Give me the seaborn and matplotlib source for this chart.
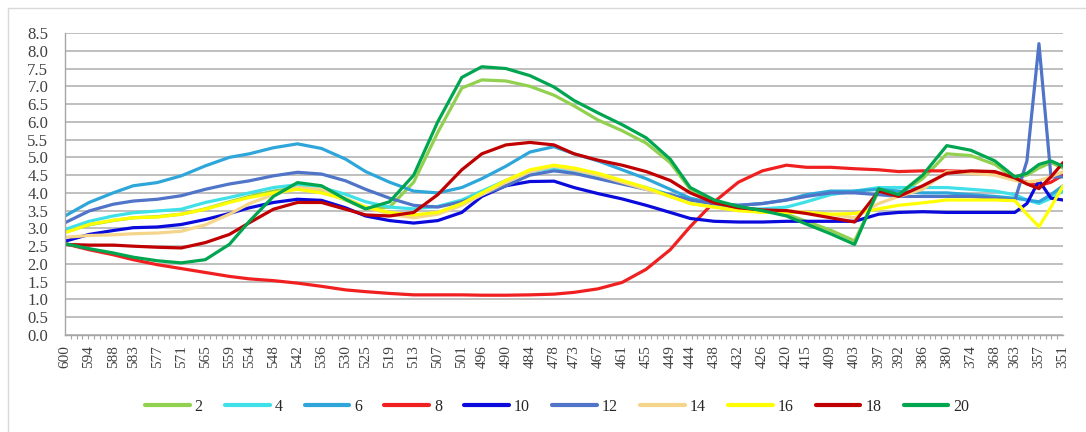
import numpy as np
import pandas as pd
import matplotlib
matplotlib.use("Agg")
import matplotlib.pyplot as plt
from matplotlib.lines import Line2D
import seaborn as sns

# longitudes de onda (nm) y series
wl = [600, 594, 588, 583, 577, 571, 565, 559, 554, 548, 542, 536, 530, 525, 519,
      513, 507, 501, 496, 490, 484, 478, 473, 467, 461, 455, 449, 444, 438, 432,
      426, 420, 415, 409, 403, 397, 392, 386, 380, 374, 368, 363, 360, 357, 354, 351]
tick_wl = [600, 594, 588, 583, 577, 571, 565, 559, 554, 548, 542, 536, 530, 525, 519,
           513, 507, 501, 496, 490, 484, 478, 473, 467, 461, 455, 449, 444, 438, 432,
           426, 420, 415, 409, 403, 397, 392, 386, 380, 374, 368, 363, 357, 351]

s2 = [2.90, 3.10, 3.22, 3.30, 3.33, 3.40, 3.55, 3.75, 3.90, 4.05, 4.15, 4.05, 3.80, 3.55, 3.60,
      4.30, 5.70, 6.95, 7.18, 7.15, 7.00, 6.75, 6.45, 6.05, 5.75, 5.40, 4.85, 4.10, 3.75, 3.60,
      3.50, 3.40, 3.20, 2.95, 2.65, 4.05, 3.95, 4.40, 5.10, 5.05, 4.80, 4.40, 4.50, 4.70, 4.85, 4.70]
s4 = [2.97, 3.20, 3.35, 3.44, 3.49, 3.54, 3.73, 3.87, 4.00, 4.15, 4.23, 4.15, 3.96, 3.75, 3.60,
      3.55, 3.62, 3.80, 4.05, 4.35, 4.60, 4.70, 4.60, 4.45, 4.30, 4.15, 3.95, 3.80, 3.65, 3.55,
      3.55, 3.60, 3.75, 3.95, 4.05, 4.15, 4.15, 4.15, 4.15, 4.10, 4.05, 3.95, 3.80, 3.70, 3.85, 4.05]
s6 = [3.35, 3.73, 4.00, 4.20, 4.29, 4.48, 4.76, 5.00, 5.10, 5.27, 5.38, 5.25, 4.95, 4.60, 4.30,
      4.05, 4.00, 4.15, 4.40, 4.75, 5.15, 5.30, 5.10, 4.90, 4.65, 4.40, 4.10, 3.85, 3.70, 3.65,
      3.70, 3.80, 3.95, 4.05, 4.05, 4.10, 4.05, 4.00, 4.00, 3.95, 3.90, 3.85, 3.80, 3.75, 3.95, 4.20]
s8 = [2.57, 2.40, 2.26, 2.12, 1.98, 1.87, 1.76, 1.65, 1.58, 1.53, 1.46, 1.37, 1.27, 1.22, 1.17,
      1.13, 1.13, 1.13, 1.12, 1.12, 1.13, 1.15, 1.20, 1.30, 1.48, 1.85, 2.40, 3.05, 3.75, 4.30,
      4.62, 4.78, 4.72, 4.72, 4.68, 4.65, 4.60, 4.62, 4.62, 4.60, 4.55, 4.40, 4.30, 4.20, 4.30, 4.50]
s10 = [2.64, 2.83, 2.94, 3.02, 3.04, 3.11, 3.25, 3.42, 3.58, 3.73, 3.82, 3.79, 3.58, 3.35, 3.22,
       3.15, 3.22, 3.45, 3.90, 4.20, 4.32, 4.33, 4.15, 3.98, 3.83, 3.65, 3.45, 3.28, 3.20, 3.18,
       3.18, 3.20, 3.20, 3.20, 3.20, 3.40, 3.45, 3.47, 3.45, 3.45, 3.45, 3.45, 3.70, 4.35, 3.85, 3.80]
s12 = [3.16, 3.49, 3.68, 3.77, 3.82, 3.92, 4.10, 4.25, 4.34, 4.48, 4.58, 4.53, 4.34, 4.10, 3.85,
       3.65, 3.60, 3.75, 3.95, 4.20, 4.50, 4.62, 4.55, 4.40, 4.25, 4.10, 3.95, 3.80, 3.70, 3.65,
       3.70, 3.80, 3.90, 4.00, 4.00, 3.95, 3.90, 3.90, 3.90, 3.90, 3.85, 3.80, 4.90, 8.20, 4.45, 4.45]
s14 = [2.75, 2.80, 2.82, 2.85, 2.87, 2.92, 3.10, 3.40, 3.70, 3.95, 4.15, 4.10, 3.85, 3.60, 3.40,
       3.30, 3.40, 3.65, 3.95, 4.30, 4.60, 4.75, 4.65, 4.50, 4.30, 4.10, 3.90, 3.70, 3.60, 3.50,
       3.50, 3.50, 3.45, 3.40, 3.30, 3.70, 3.90, 4.10, 4.60, 4.55, 4.50, 4.35, 4.30, 4.35, 4.45, 4.60]
s16 = [2.88, 3.11, 3.23, 3.30, 3.32, 3.40, 3.54, 3.73, 3.87, 4.00, 4.10, 4.00, 3.82, 3.60, 3.45,
       3.38, 3.45, 3.70, 4.00, 4.35, 4.65, 4.78, 4.70, 4.55, 4.35, 4.15, 3.90, 3.70, 3.60, 3.50,
       3.45, 3.45, 3.45, 3.40, 3.42, 3.55, 3.65, 3.72, 3.80, 3.80, 3.80, 3.78, 3.40, 3.05, 3.60, 4.20]
s18 = [2.55, 2.53, 2.53, 2.50, 2.47, 2.45, 2.60, 2.83, 3.16, 3.54, 3.73, 3.73, 3.54, 3.38, 3.35,
       3.45, 3.95, 4.65, 5.10, 5.35, 5.42, 5.35, 5.10, 4.92, 4.78, 4.60, 4.35, 4.00, 3.72, 3.58,
       3.52, 3.50, 3.42, 3.30, 3.18, 4.05, 3.90, 4.20, 4.55, 4.62, 4.60, 4.42, 4.25, 4.12, 4.45, 4.85]
s20 = [2.57, 2.43, 2.31, 2.19, 2.09, 2.03, 2.12, 2.55, 3.20, 3.90, 4.29, 4.20, 3.82, 3.55, 3.75,
       4.50, 6.00, 7.25, 7.55, 7.50, 7.30, 6.98, 6.60, 6.25, 5.92, 5.55, 4.95, 4.15, 3.80, 3.62,
       3.50, 3.35, 3.12, 2.85, 2.55, 4.12, 3.95, 4.50, 5.33, 5.20, 4.90, 4.45, 4.55, 4.80, 4.90, 4.75]

series = ["2", "4", "6", "8", "10", "12", "14", "16", "18", "20"]
values = [s2, s4, s6, s8, s10, s12, s14, s16, s18, s20]
colores = ["#92D050", "#40E0E8", "#2EA6DA", "#F02020", "#0A0ADC",
           "#4F74C8", "#F5D58A", "#FFFF00", "#C00000", "#00A550"]

df = pd.DataFrame({
    "wl": np.tile(wl, len(series)),
    "valor": np.concatenate(values),
    "serie": np.repeat(series, len(wl)),
})

sns.set_style("white")
plt.rcParams["font.family"] = ["Liberation Serif", "DejaVu Serif"]

fig = plt.figure(figsize=(10.86, 4.32), dpi=100)
ax = fig.add_axes([65 / 1086, 1 - 335 / 432, 998 / 1086, 302 / 432])

sns.lineplot(data=df, x="wl", y="valor", hue="serie", hue_order=series,
             palette=colores, linewidth=2.3, ax=ax, sort=False, legend=True)

ax.set_xlim(600, 351)
ax.set_ylim(0, 8.5)
ax.set_yticks(np.arange(0, 8.51, 0.5))
ax.set_yticklabels([f"{v:.1f}" for v in np.arange(0, 8.51, 0.5)])
ax.set_xticks(tick_wl)
ax.set_xticklabels([str(t) for t in tick_wl], rotation=90)
ax.set_xticks(np.linspace(351, 600, 173), minor=True)
ax.yaxis.grid(True, color="#B4B4B4", linewidth=1.2)
ax.set_axisbelow(True)
ax.set_xlabel("")
ax.set_ylabel("")

for s in ["top", "right"]:
    ax.spines[s].set_visible(False)
for s in ["left", "bottom"]:
    ax.spines[s].set_color("#A6A6A6")
    ax.spines[s].set_linewidth(1.0)

ax.tick_params(axis="y", length=0, pad=12, labelsize=12, labelcolor="#404040")
ax.tick_params(axis="x", which="major", direction="out", length=3, width=0.8,
               color="#A6A6A6", pad=4, labelsize=11, labelcolor="#404040")
ax.tick_params(axis="x", which="minor", direction="out", length=3, width=0.8,
               color="#A6A6A6", bottom=True)

ax.legend_.remove()
handles = [Line2D([0], [0], color=c, lw=3) for c in colores]
fig.legend(handles, series, loc="center", bbox_to_anchor=(557 / 1086, 1 - 407 / 432),
           ncol=10, frameon=False, fontsize=11.5, handlelength=2.8,
           handletextpad=0.3, columnspacing=1.4)

# borde del area del grafico
fig.add_artist(Line2D([8 / 1086, 1], [1 - 8 / 432, 1 - 8 / 432], color="#D9D9D9", lw=1.0))
fig.add_artist(Line2D([8 / 1086, 8 / 1086], [0, 1 - 8 / 432], color="#D9D9D9", lw=1.0))

fig.savefig("out.png", dpi=100)
